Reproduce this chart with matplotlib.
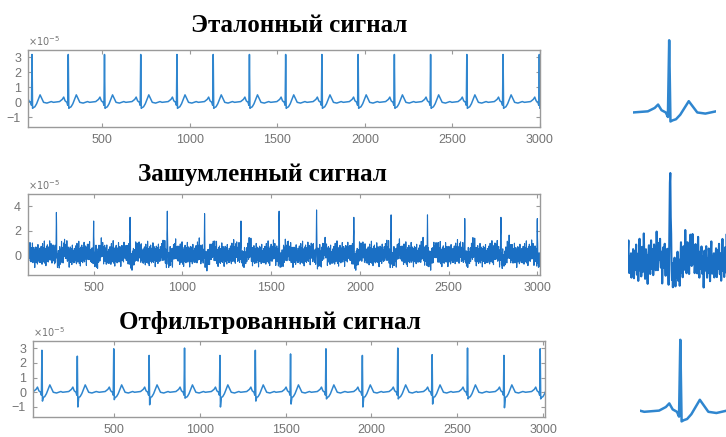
import numpy as np
import matplotlib
matplotlib.use("Agg")
import matplotlib.pyplot as plt

W, H = 726, 437

# ---- beat template (samples from R peak, amplitude x1e-5), R value set per beat
BEAT_OFF = [-85, -50, -34, -26, -18, -8, -3, 0, 3, 8, 16, 26, 36, 46, 56, 66, 85, 110]
BEAT_VAL = [0.0, 0.05, 0.2, 0.35, 0.1, 0.0, -0.2, 3.2, -0.4, -0.35, -0.3, -0.1, 0.2, 0.5, 0.25, 0.0, -0.05, 0.05]
R_IDX = 7
S_IDX = 8

# reference signal
REF_PEAKS = [98, 305, 512, 719, 926, 1133, 1340, 1547, 1754, 1961, 2168, 2375, 2582, 2789, 2996]
REF_HEIGHTS = [3.2] * len(REF_PEAKS)
REF_DIPS = [-0.4] * len(REF_PEAKS)

# noisy signal
NOISY_PEAKS = [85, 290, 500, 705, 915, 1125, 1330, 1545, 1756, 1966, 2176, 2381, 2591, 2795, 3000]
NOISY_HEIGHTS = [3.2, 3.5, 2.8, 3.1, 3.6, 3.4, 2.8, 3.6, 3.7, 3.1, 3.3, 3.3, 3.0, 3.1, 3.0]
NOISE = [0.31, -0.42, 0.18, 0.55, -0.12, -0.61, 0.08, 0.47, -0.28, 0.22, 0.73, -0.05,
         -0.48, 0.36, 0.12, -0.73, -0.21, 0.44, 0.95, 0.10, -0.33, 0.27, -0.56, -0.14,
         0.62, 0.05, -0.38, 0.19, 1.15, 0.34, -0.25, -0.67, 0.14, 0.51, -0.09, 0.28,
         -0.44, -0.88, 0.07, 0.39, 0.66, -0.18, 0.02, -0.52, 0.25, 0.81, -0.11, -0.35,
         0.43, 0.16, -0.63, -0.27, 0.58, 0.21, -0.07, 0.35, -0.49, 0.12, 1.02, 0.26,
         -0.31, -0.58, 0.09, 0.47, -0.22, 0.31, 0.68, -0.16, -0.41, 0.04, 0.29, -0.95,
         -0.12, 0.53, 0.18, -0.26, 0.41, 0.72, -0.08, -0.54, 0.23, 0.06, -0.37, 0.61,
         0.33, -0.19, -0.71, 0.15, 0.49, 0.87, -0.02, -0.43, 0.24, 0.13, -0.29, 0.37, -0.60]

# filtered signal
FILT_PEAKS = [82, 288, 500, 706, 912, 1118, 1324, 1529, 1735, 1947, 2153, 2353, 2559, 2771, 2982]
FILT_HEIGHTS = [2.85, 2.45, 2.95, 2.5, 3.0, 2.5, 2.85, 2.6, 2.95, 2.5, 3.0, 2.55, 3.0, 2.5, 2.95]
FILT_DIPS = [-0.6, -1.0, -0.5, -0.85, -0.4, -1.0, -0.6, -0.8, -0.45, -1.0, -0.45, -0.8, -0.45, -1.05, -0.45]

TITLES = ["Эталонный сигнал", "Зашумленный сигнал", "Отфильтрованный сигнал"]
XTICKS = [500, 1000, 1500, 2000, 2500, 3000]


def beats(peaks, heights, dips):
    xs, ys = [], []
    for p, h, d in zip(peaks, heights, dips):
        v = list(BEAT_VAL)
        v[R_IDX] = h
        v[S_IDX] = d
        xs += [p + o for o in BEAT_OFF]
        ys += v
    return np.array(xs, float), np.array(ys, float)


ref_x, ref_y = beats(REF_PEAKS, REF_HEIGHTS, REF_DIPS)
filt_x, filt_y = beats(FILT_PEAKS, FILT_HEIGHTS, FILT_DIPS)
nb_x, nb_y = beats(NOISY_PEAKS, NOISY_HEIGHTS, [-0.4] * len(NOISY_PEAKS))
n_x = np.arange(0, 3100)
noise = np.resize(NOISE, len(n_x))
noise[np.isin(n_x, NOISY_PEAKS)] = 0.0     # keep the read R heights
n_y = np.interp(n_x, nb_x, nb_y) + noise

fig = plt.figure(figsize=(W / 100, H / 100), dpi=100)


def add_ax(l, t, r, b):
    return fig.add_axes([l / W, 1 - b / H, (r - l) / W, (b - t) / H])


GRAY = "#747474"
EDGE = "#9a9a9a"


def style(ax, xlim, ylim, yticks):
    ax.set_xlim(*xlim)
    ax.set_ylim(*ylim)
    ax.set_xticks(XTICKS)
    ax.set_yticks(yticks)
    ax.tick_params(direction="in", length=3, width=0.8, color=EDGE, labelcolor=GRAY,
                   labelsize=9, top=True, right=True, pad=5)
    for s in ax.spines.values():
        s.set_color(EDGE)
        s.set_linewidth(1.0)
    for lab in ax.get_xticklabels() + ax.get_yticklabels():
        lab.set_family("Liberation Sans")
    ax.text(0.0, 1.02, r"$\times10^{-5}$", transform=ax.transAxes, fontsize=7,
            color=GRAY, ha="left", va="bottom")


BLUE = "#2f86cf"
NBLUE = "#1a6fc4"

ax1 = add_ax(28, 50, 540, 127)
ax1.plot(ref_x, ref_y, color=BLUE, lw=1.1)
style(ax1, (75, 3000), (-1.65, 3.5), [-1, 0, 1, 2, 3])

ax2 = add_ax(28, 194, 540, 275)
ax2.plot(n_x, n_y, color=NBLUE, lw=0.8)
style(ax2, (130, 3015), (-1.6, 5.0), [0, 2, 4])

ax3 = add_ax(33, 341, 545, 417)
ax3.plot(filt_x, filt_y, color=BLUE, lw=1.1)
style(ax3, (30, 3010), (-1.68, 3.48), [-1, 0, 1, 2, 3])

title_pos = [(299, 25), (262, 175), (270, 323)]
for t, (cx, cy) in zip(TITLES, title_pos):
    fig.text(cx / W, 1 - cy / H, t, ha="center", va="center", fontsize=18,
             fontweight="bold", family="Liberation Serif", color="black")

# single-beat close-ups on the right
r = REF_PEAKS[7]
ia = add_ax(633, 38, 716, 126)
ia.plot(ref_x, ref_y, color=BLUE, lw=1.8)
ia.set_xlim(r - 85, r + 110)
ia.set_ylim(-0.6, 3.3)
ia.axis("off")

r = NOISY_PEAKS[7]
ib = add_ax(628, 168, 728, 293)
ib.plot(n_x, n_y, color=NBLUE, lw=1.5)
ib.set_xlim(r - 99, r + 135)
ib.set_ylim(-1.2, 3.8)
ib.axis("off")

r = FILT_PEAKS[4]
ic = add_ax(640, 335, 727, 431)
ic.plot(filt_x, filt_y, color=BLUE, lw=1.8)
ic.set_xlim(r - 95, r + 110)
ic.set_ylim(-0.8, 3.2)
ic.axis("off")

fig.savefig("out.png", dpi=100)
